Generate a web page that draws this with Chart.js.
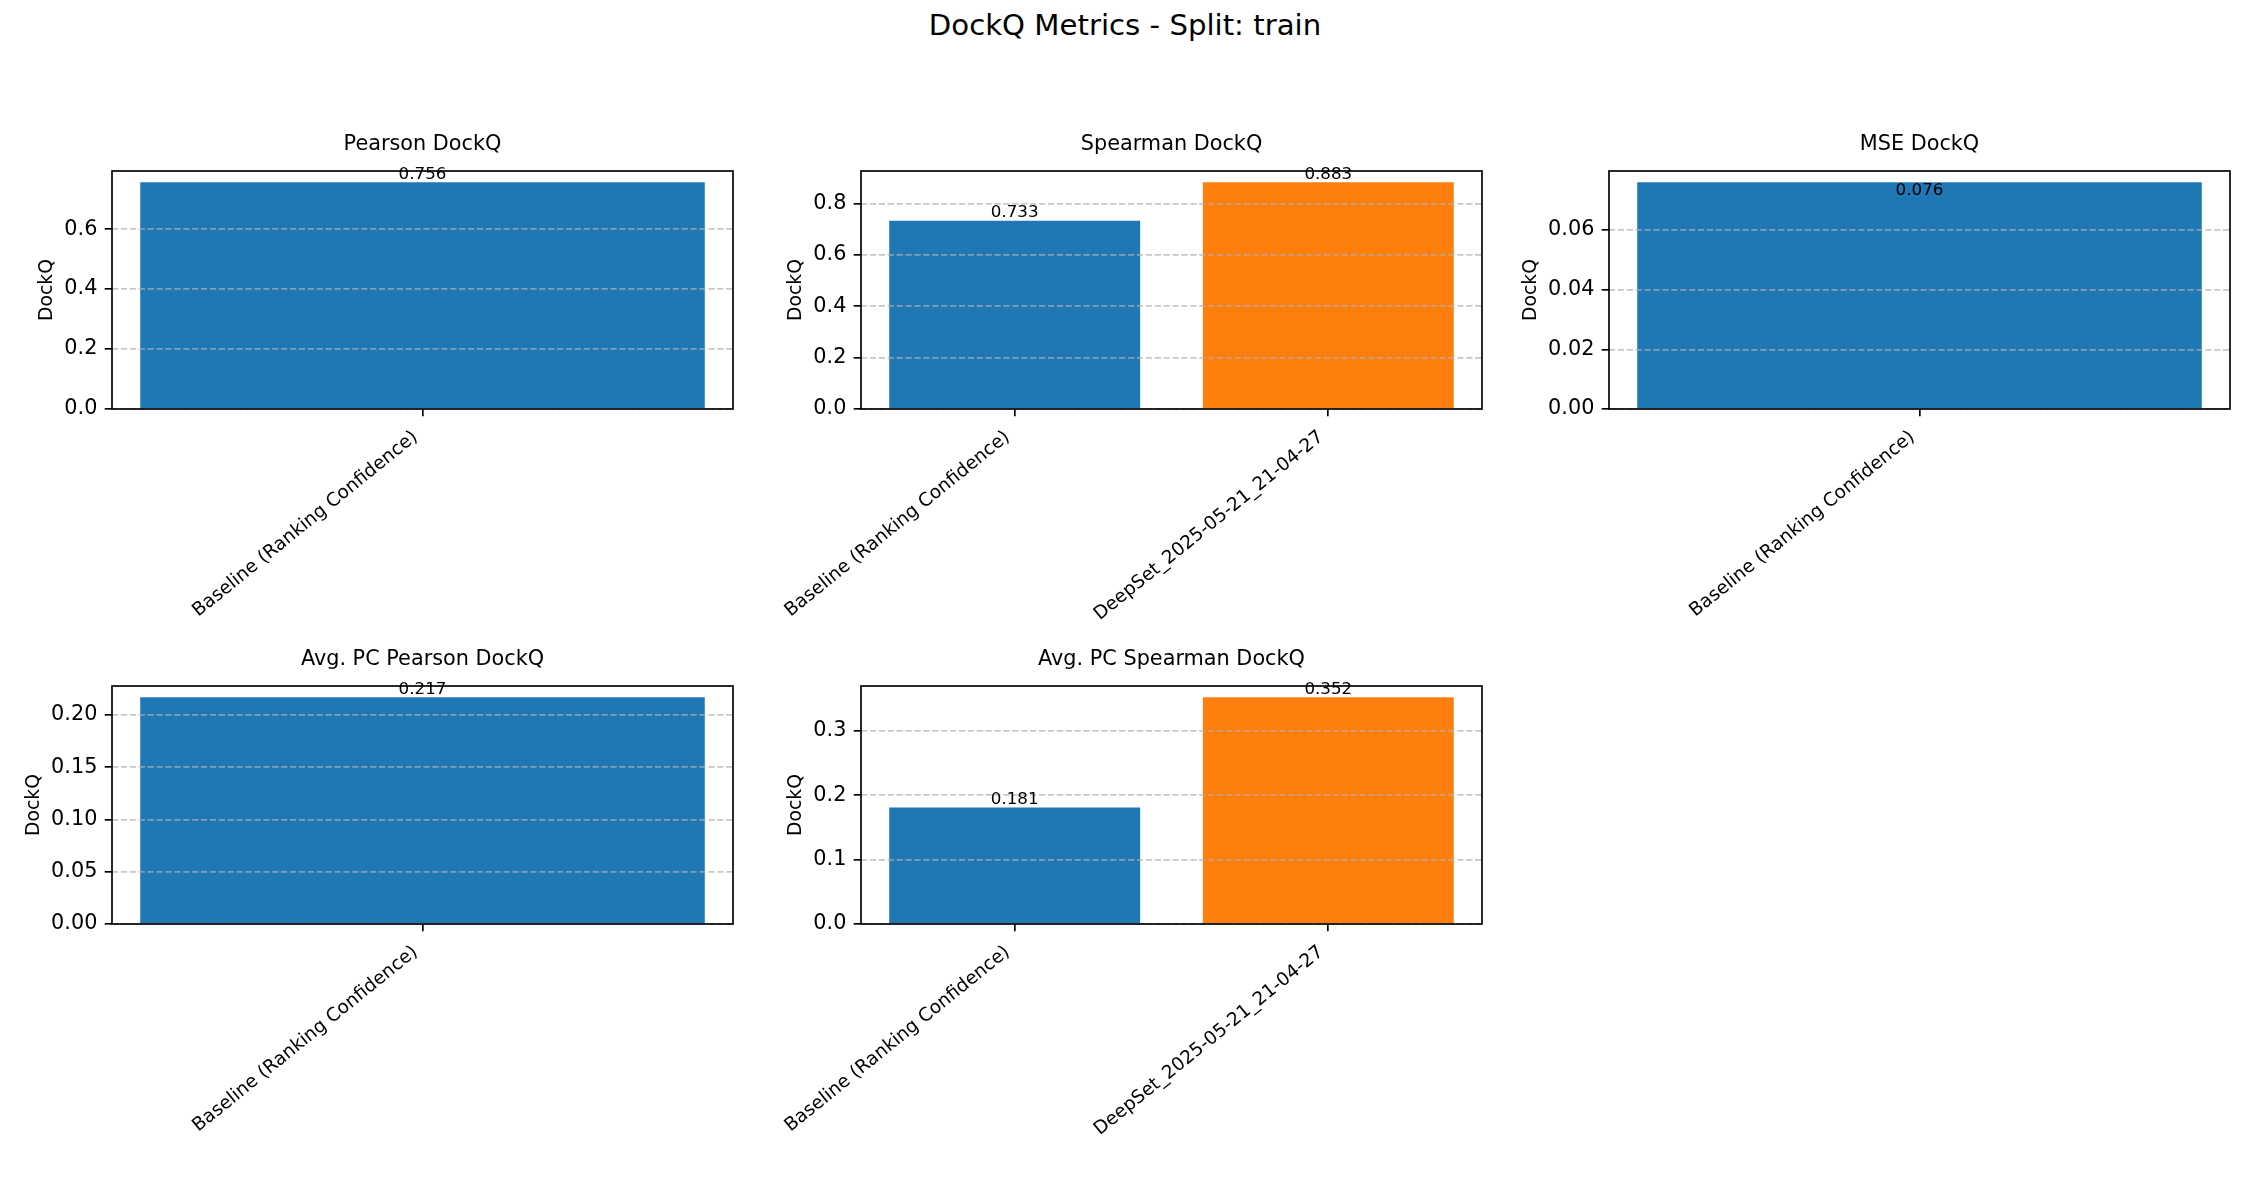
<!DOCTYPE html>
<html>
<head>
<meta charset="utf-8">
<title>DockQ Metrics - Split: train</title>
<script src="https://cdn.jsdelivr.net/npm/chart.js@4.4.1/dist/chart.umd.min.js"></script>
<style>
  html, body { margin: 0; padding: 0; background: #fff; }
  #fig { position: relative; width: 2250px; height: 1200px; overflow: hidden; background: #fff; }
  #fig canvas { position: absolute; }
  #suptitle {
    position: absolute; left: 0; top: 11px; width: 2250px;
    text-align: center; color: #000;
    font: 29.2px/1 'DejaVu Sans', sans-serif;
  }
</style>
</head>
<body>
<div id="fig">
  <div id="suptitle">DockQ Metrics - Split: train</div>
</div>
<script>
(function () {
  "use strict";

  /* ── data ─────────────────────────────────────────────────── */
  var oneModel = ["Baseline (Ranking Confidence)"];
  var twoModels = ["Baseline (Ranking Confidence)", "DeepSet_2025-05-21_21-04-27"];

  var pearsonDockq = [0.756];
  var spearmanDockq = [0.733, 0.883];
  var mseDockq = [0.076];
  var avgPcPearsonDockq = [0.217];
  var avgPcSpearmanDockq = [0.181, 0.352];

  var pearsonTicks = ["0.0", "0.2", "0.4", "0.6"];
  var spearmanTicks = ["0.0", "0.2", "0.4", "0.6", "0.8"];
  var mseTicks = ["0.00", "0.02", "0.04", "0.06"];
  var avgPcPearsonTicks = ["0.00", "0.05", "0.10", "0.15", "0.20"];
  var avgPcSpearmanTicks = ["0.0", "0.1", "0.2", "0.3"];

  var barColors = ["#1f77b4", "#ff7f0e"];

  /* ── layout (axes boxes in page pixels) ───────────────────── */
  var AX_W = 621, AX_H = 238;
  var LEFT_M = 110, TOP_M = 60, RIGHT_M = 16, BOTTOM_M = 280;
  var BAR_W = 0.8, X_MARGIN = 0.05;

  var panels = [
    { title: "Pearson DockQ", labels: oneModel, values: pearsonDockq, ticks: pearsonTicks, left: 112, top: 171 },
    { title: "Spearman DockQ", labels: twoModels, values: spearmanDockq, ticks: spearmanTicks, left: 861, top: 171 },
    { title: "MSE DockQ", labels: oneModel, values: mseDockq, ticks: mseTicks, left: 1609, top: 171, inside: true },
    { title: "Avg. PC Pearson DockQ", labels: oneModel, values: avgPcPearsonDockq, ticks: avgPcPearsonTicks, left: 112, top: 686 },
    { title: "Avg. PC Spearman DockQ", labels: twoModels, values: avgPcSpearmanDockq, ticks: avgPcSpearmanTicks, left: 861, top: 686 }
  ];

  Chart.defaults.font.family = "'DejaVu Sans', sans-serif";
  Chart.defaults.color = "#000";

  /* ── frame + value labels on top of everything ───────────── */
  var frameAndLabels = {
    id: "frameAndLabels",
    afterDraw: function (chart, args, opts) {
      var ctx = chart.ctx, a = chart.chartArea;
      ctx.save();
      ctx.lineWidth = 1.67;
      ctx.strokeStyle = "#000";
      ctx.strokeRect(a.left, a.top, a.right - a.left, a.bottom - a.top);

      var meta = chart.getDatasetMeta(0);
      var vals = chart.data.datasets[0].data;
      ctx.font = "16.7px 'DejaVu Sans', sans-serif";
      ctx.fillStyle = "#000";
      ctx.textAlign = "center";
      ctx.textBaseline = "alphabetic";
      meta.data.forEach(function (bar, i) {
        var y = opts.inside ? bar.y + 12.2 : bar.y - 3.4;
        ctx.fillText(vals[i].toFixed(3), bar.x, y);
      });
      ctx.restore();
    }
  };

  var measure = document.createElement("canvas").getContext("2d");
  measure.font = "20.8px 'DejaVu Sans'";
  function yTitlePad(tickLabels) {
    var w = Math.max.apply(null, tickLabels.map(function (t) { return measure.measureText(t).width; }));
    var center = LEFT_M - (7.3 + 7.3 + w + 8.3 + 9);
    return center - 18.75 * 1.2 / 2;
  }

  var fig = document.getElementById("fig");

  panels.forEach(function (p) {
    var cv = document.createElement("canvas");
    cv.width = AX_W + LEFT_M + RIGHT_M;
    cv.height = AX_H + TOP_M + BOTTOM_M;
    cv.style.left = (p.left - LEFT_M) + "px";
    cv.style.top = (p.top - TOP_M) + "px";
    fig.appendChild(cv);

    var n = p.labels.length;
    var span = n - 1 + BAR_W;               // data extent in category units
    var range = span * (1 + 2 * X_MARGIN);  // axis extent with 5% margins
    var barFrac = n > 1 ? BAR_W : BAR_W / range;

    new Chart(cv, {
      type: "bar",
      data: {
        labels: p.labels,
        datasets: [{
          data: p.values,
          backgroundColor: barColors.slice(0, n),
          borderWidth: 0,
          barPercentage: barFrac,
          categoryPercentage: 1
        }]
      },
      options: {
        responsive: false,
        animation: false,
        devicePixelRatio: 1,
        layout: { padding: { left: 0, right: RIGHT_M, top: 0, bottom: 0 } },
        plugins: {
          legend: { display: false },
          tooltip: { enabled: false },
          title: {
            display: true,
            fullSize: false,
            text: p.title,
            color: "#000",
            font: { size: 20.8, weight: "normal" },
            padding: { top: 21.4, bottom: 13.64 }
          },
          frameAndLabels: { inside: !!p.inside }
        },
        scales: {
          x: {
            type: "category",
            afterBuildTicks: function (s) {
              s._startValue = -BAR_W / 2 - span * X_MARGIN;
              s._valueRange = range;
            },
            afterFit: function (s) { s.height = BOTTOM_M; s.paddingLeft = 0; s.paddingRight = 0; },
            ticks: {
              autoSkip: false, minRotation: 39, maxRotation: 39,
              color: "#000", font: { size: 18.5 }, padding: 10, labelOffset: -7
            },
            grid: {
              display: true, drawOnChartArea: false, offset: false,
              drawTicks: true, tickLength: 7.3, tickColor: "#000", tickWidth: 1.67,
              color: "#000", lineWidth: 1.67
            },
            border: { display: false }
          },
          y: {
            min: 0,
            max: Math.max.apply(null, p.values) * 1.05,
            afterBuildTicks: function (s) {
              s.ticks = p.ticks.map(function (t) { return { value: parseFloat(t) }; });
            },
            afterFit: function (s) { s.width = LEFT_M; s.paddingTop = 0; s.paddingBottom = 0; },
            ticks: {
              callback: function (v, i) { return p.ticks[i]; },
              color: "#000", font: { size: 20.8 }, padding: 7.3
            },
            grid: {
              z: 1,
              color: "rgba(176,176,176,0.7)", lineWidth: 1.67,
              drawTicks: true, tickLength: 7.3, tickColor: "#000", tickWidth: 1.67, tickBorderDash: []
            },
            border: { display: false, dash: [6.2, 2.7] },
            title: {
              display: true, text: "DockQ", color: "#000",
              font: { size: 18.75 },
              padding: { top: yTitlePad(p.ticks), bottom: 0 }
            }
          }
        }
      },
      plugins: [frameAndLabels]
    });
  });
})();
</script>
</body>
</html>
